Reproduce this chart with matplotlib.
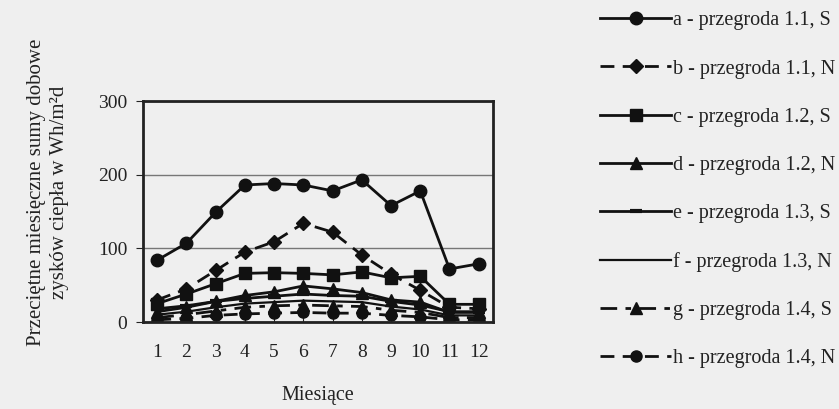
import matplotlib.pyplot as plt

plt.rcParams['font.family'] = ['Liberation Serif', 'DejaVu Serif']

miesiace = [1, 2, 3, 4, 5, 6, 7, 8, 9, 10, 11, 12]

a_11S = [84, 107, 149, 186, 188, 186, 178, 193, 158, 178, 72, 79]
b_11N = [30, 45, 70, 95, 109, 134, 122, 91, 65, 43, 20, 18]
c_12S = [25, 38, 52, 66, 67, 66, 64, 68, 60, 62, 24, 24]
d_12N = [14, 20, 28, 36, 41, 49, 45, 40, 30, 27, 13, 13]
e_13S = [18, 22, 28, 32, 35, 38, 36, 35, 28, 23, 14, 14]
f_13N = [10, 14, 20, 25, 27, 29, 28, 27, 21, 17, 9, 9]
g_14S = [6, 10, 15, 20, 22, 23, 22, 21, 16, 13, 6, 6]
h_14N = [3, 5, 9, 11, 12, 13, 12, 12, 9, 7, 3, 3]

etykiety = ["a - przegroda 1.1, S", "b - przegroda 1.1, N", "c - przegroda 1.2, S",
            "d - przegroda 1.2, N", "e - przegroda 1.3, S", "f - przegroda 1.3, N",
            "g - przegroda 1.4, S", "h - przegroda 1.4, N"]

fig = plt.figure(figsize=(8.39, 4.09), dpi=100)
fig.patch.set_facecolor('#efefef')
ax = fig.add_axes([0.170, 0.2127, 0.418, 0.5403])
ax.set_facecolor('#efefef')

k = '#111111'
ax.plot(miesiace, a_11S, color=k, lw=2, marker='o', ms=9, label=etykiety[0])
ax.plot(miesiace, b_11N, color=k, lw=2, dashes=(5, 3), marker='D', ms=7, label=etykiety[1])
ax.plot(miesiace, c_12S, color=k, lw=2, marker='s', ms=8, label=etykiety[2])
ax.plot(miesiace, d_12N, color=k, lw=2, marker='^', ms=8, label=etykiety[3])
ax.plot(miesiace, e_13S, color=k, lw=2, marker='_', ms=9, mew=3, label=etykiety[4])
ax.plot(miesiace, f_13N, color=k, lw=1.6, label=etykiety[5])
ax.plot(miesiace, g_14S, color=k, lw=2, dashes=(6, 3, 2, 3), marker='^', ms=8, label=etykiety[6])
ax.plot(miesiace, h_14N, color=k, lw=2, dashes=(5, 3), marker='o', ms=8, label=etykiety[7])

ax.set_xlim(0.5, 12.5)
ax.set_ylim(0, 300)
ax.set_yticks([0, 100, 200, 300])
ax.set_xticks(miesiace)
ax.yaxis.grid(True, color='#777777', lw=1)
ax.set_axisbelow(True)
for s in ax.spines.values():
    s.set_linewidth(2)
    s.set_color('#222222')
ax.tick_params(axis='both', labelsize=14, colors='#222222')
ax.tick_params(axis='y', length=5, direction='out', pad=6)
ax.tick_params(axis='x', length=4, direction='in', pad=16)

ax.set_xlabel("Miesiące", fontsize=14.5, labelpad=18, color='#222222')
fig.text(0.057, 0.53, "Przeciętne miesięczne sumy dobowe\nzysków ciepła w Wh/m²d",
         rotation=90, ha='center', va='center', fontsize=15, linespacing=1.3,
         color='#222222')

fig.legend(loc='upper left', bbox_to_anchor=(0.706, 0.992), frameon=False,
           fontsize=14.5, handlelength=3.5, labelspacing=1.44, handletextpad=0.1,
           borderaxespad=0, labelcolor='#222222')

fig.savefig("out.png", dpi=100, facecolor=fig.get_facecolor())
